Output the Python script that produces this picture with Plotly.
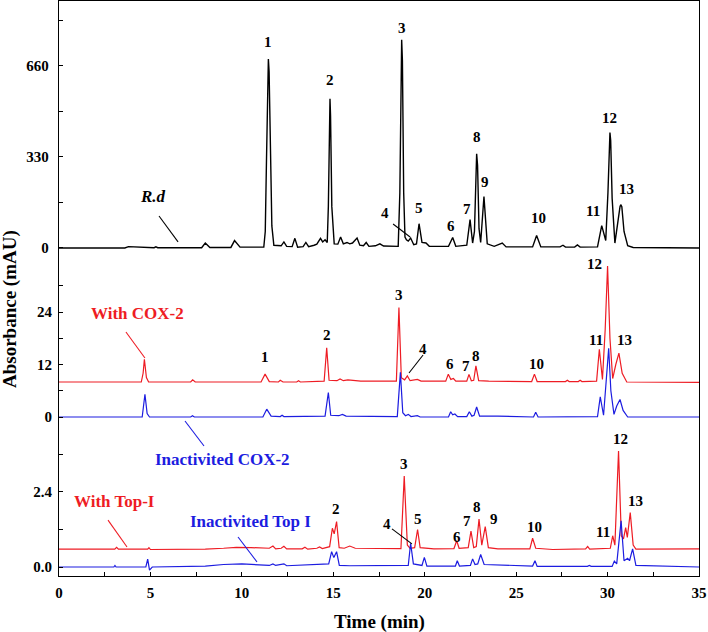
import plotly.graph_objects as go

# ---------------- data (retention time in min, absorbance in mAU) ----------------
rd_t = [0.0, 3.6, 3.8, 4.4, 4.6, 5.2, 5.3, 5.4, 7.8, 8.0, 8.25, 9.4, 9.6, 9.9, 11.2, 11.28, 11.35, 11.41, 11.45,
        11.49, 11.56, 11.64, 11.75, 12.15, 12.3, 12.45, 12.75, 12.9, 13.05, 13.35, 13.5, 13.65, 13.95, 14.1,
        14.3, 14.42, 14.55, 14.67, 14.73, 14.79, 14.82, 14.85, 14.92, 15.05, 15.25, 15.4, 15.55, 15.75, 15.9,
        16.05, 16.3, 16.45, 16.65, 16.8, 16.95, 17.3, 17.55, 17.75, 18.55, 18.64, 18.7, 18.74, 18.78, 18.85,
        18.92, 19.0, 19.1, 19.23, 19.4, 19.55, 19.69, 19.85, 20.07, 20.25, 21.3, 21.53, 21.7, 22.3, 22.48,
        22.62, 22.72, 22.8, 22.84, 22.89, 22.97, 23.06, 23.24, 23.42, 23.8, 24.24, 24.45, 25.9, 26.12, 26.35,
        27.4, 27.56, 27.7, 28.2, 28.35, 28.5, 29.45, 29.68, 29.9, 30.02, 30.09, 30.13, 30.17, 30.25, 30.4,
        30.55, 30.68, 30.72, 30.78, 30.9, 31.1, 31.4, 35.0]
rd_v = [0, 0, 5, 4, 1, 1, 4, 1, 1, 18, 2, 2, 27, 3, 3, 60, 330, 640, 685,
        640, 330, 80, 10, 8, 22, 6, 5, 35, 3, 5, 20, 5, 10, 14,
        35, 22, 30, 20, 150, 480, 541, 480, 150, 15, 14, 40, 15, 20, 15,
        18, 36, 10, 8, 20, 6, 8, 15, 7, 6, 200, 680, 755, 680, 200,
        40, 30, 25, 36, 12, 15, 88, 20, 18, 6, 6, 38, 6, 10, 103,
        18, 60, 300, 342, 300, 70, 20, 187, 15, 6, 18, 4, 4, 45, 4,
        4, 10, 3, 3, 11, 3, 4, 81, 27, 200, 390, 419, 390, 180, 18,
        100, 150, 157, 150, 60, 8, 2, 0]

cox_t = [0.0, 4.5, 4.6, 4.67, 4.78, 4.9, 7.2, 7.31, 7.45, 11.05, 11.27, 11.5, 12.0, 12.1, 12.25, 13.0, 13.1,
         13.2, 14.5, 14.64, 14.77, 15.2, 15.37, 15.55, 15.8, 16.5, 18.45, 18.59, 18.72, 18.9, 19.05, 19.2,
         19.6, 19.8, 21.15, 21.29, 21.43, 21.57, 21.7, 22.3, 22.42, 22.55, 22.68, 22.8, 22.95, 23.5, 25.85,
         26.0, 26.15, 27.7, 27.8, 27.9, 28.4, 28.5, 28.6, 29.4, 29.55, 29.72, 29.87, 30.0, 30.13, 30.28,
         30.45, 30.62, 30.8, 31.05, 35.0]
cox_v = [8.0, 8.0, 10.0, 13.2, 9.0, 8.0, 8.0, 8.5, 8.0, 8.0, 9.8, 8.1, 8.0, 8.4, 8.0, 8.0, 8.3,
         8.0, 8.2, 15.8, 8.4, 8.3, 8.7, 8.3, 8.5, 8.2, 8.2, 25.0, 9.0, 8.5, 9.4, 8.3,
         8.6, 8.2, 8.2, 9.8, 8.6, 8.8, 8.2, 8.2, 9.75, 8.3, 8.4, 11.7, 8.3, 8.2, 8.1,
         9.8, 8.1, 8.1, 8.4, 8.1, 8.1, 8.4, 8.1, 8.2, 15.5, 8.6, 20.0, 34.5, 18.0, 8.8,
         12.0, 14.6, 10.0, 8.0, 7.9]

icox_t = [0.0, 4.55, 4.7, 4.82, 4.95, 7.2, 7.3, 7.4, 11.15, 11.36, 11.6, 12.1, 12.2, 12.3, 14.55, 14.73,
          14.86, 15.3, 15.5, 15.7, 18.5, 18.67, 18.8, 18.95, 19.1, 19.25, 19.6, 19.75, 21.3, 21.42, 21.53,
          21.65, 21.8, 22.3, 22.44, 22.58, 22.7, 22.84, 23.0, 24.0, 25.95, 26.07, 26.2, 29.45, 29.6, 29.78,
          29.92, 30.06, 30.18, 30.35, 30.5, 30.68, 30.85, 31.1, 35.0]
icox_v = [0.0, 0.0, 5.2, 0.8, 0.0, 0.0, 0.3, 0.0, 0.0, 1.8, 0.2, 0.1, 0.4, 0.1, 0.2, 5.6,
          0.4, 0.3, 0.6, 0.2, 0.1, 10.2, 1.0, 0.3, 0.6, 0.1, 0.3, 0.0, 0.0, 1.2, 0.5,
          0.7, 0.1, 0.1, 1.2, 0.2, 0.4, 2.3, 0.2, 0.2, 0.0, 1.1, 0.0, 0.1, 4.6, 0.4,
          8.0, 15.7, 6.0, 0.6, 2.5, 4.0, 1.5, 0.0, 0.0]

top_t = [0.0, 3.05, 3.15, 3.25, 4.85, 4.92, 5.0, 8.0, 9.0, 9.7, 10.5, 11.0, 11.5, 11.7, 11.85, 12.15, 12.3,
         12.45, 13.3, 13.45, 13.6, 14.1, 14.25, 14.4, 14.8, 14.95, 15.05, 15.18, 15.32, 15.6, 15.9, 16.2,
         17.0, 18.7, 18.88, 19.05, 19.2, 19.45, 19.61, 19.75, 20.5, 21.6, 21.75, 21.88, 22.38, 22.53, 22.68,
         22.82, 22.97, 23.12, 23.31, 23.48, 24.0, 25.75, 25.9, 26.07, 27.0, 28.8, 28.91, 29.02, 30.15, 30.28,
         30.4, 30.6, 30.75, 30.87, 30.99, 31.08, 31.24, 31.4, 31.55, 35.0]
top_v = [0.57, 0.57, 0.63, 0.57, 0.57, 0.62, 0.56, 0.57, 0.6, 0.63, 0.62, 0.6, 0.6, 0.67, 0.58, 0.6, 0.66,
         0.58, 0.58, 0.63, 0.57, 0.6, 0.64, 0.59, 0.65, 1.24, 1.06, 1.45, 0.62, 0.6, 0.67, 0.6,
         0.59, 0.59, 2.91, 0.7, 0.6, 0.62, 1.2, 0.62, 0.58, 0.59, 0.84, 0.6, 0.62, 1.15, 0.62,
         0.65, 1.53, 0.7, 1.29, 0.62, 0.58, 0.58, 0.92, 0.6, 0.56, 0.58, 0.66, 0.57, 0.6, 1.0,
         0.7, 3.71, 1.0, 0.9, 1.26, 0.95, 1.74, 0.7, 0.57, 0.58]

itop_t = [0.0, 3.0, 3.06, 3.12, 4.75, 4.85, 4.95, 5.1, 8.0, 9.0, 10.0, 11.0, 11.5, 11.7, 11.85, 12.3, 12.45,
          14.75, 14.91, 15.03, 15.18, 15.33, 15.9, 19.1, 19.23, 19.38, 19.85, 19.98, 20.12, 21.68, 21.78,
          21.9, 22.5, 22.62, 22.75, 22.9, 23.06, 23.25, 25.9, 26.03, 26.15, 28.9, 29.0, 29.1, 30.25, 30.37,
          30.5, 30.74, 30.9, 31.1, 31.2, 31.37, 31.55, 35.0]
itop_v = [0.0, 0.0, 0.05, 0.0, 0.0, 0.25, -0.1, 0.0, 0.03, 0.08, 0.1, 0.08, 0.05, 0.1, 0.05, 0.1, 0.04,
          0.1, 0.49, 0.3, 0.49, 0.05, 0.04, 0.05, 0.76, 0.1, 0.05, 0.31, 0.03, 0.03, 0.2,
          0.03, 0.05, 0.26, 0.08, 0.1, 0.4, 0.08, 0.03, 0.2, 0.02, 0.02, 0.05, 0.02, 0.02, 0.19,
          0.1, 1.48, 0.2, 0.28, 0.2, 0.58, 0.05, 0.0]

x_ticks = [0, 5, 10, 15, 20, 25, 30, 35]
y1_ticks, y1_labels = [0, 330, 660], ["0", "330", "660"]
y2_ticks, y2_labels = [0, 12, 24], ["0", "12", "24"]
y3_ticks, y3_labels = [0.0, 2.4], ["0.0", "2.4"]

# peak labels: (text, time, value) for each panel
top_labels = [("1", 11.43, 747), ("2", 14.82, 609), ("3", 18.76, 798), ("4", 17.83, 127), ("5", 19.69, 145),
              ("6", 21.44, 80), ("7", 22.31, 141), ("8", 22.86, 402), ("9", 23.30, 239), ("10", 26.20, 109),
              ("11", 29.20, 134), ("12", 30.08, 471), ("13", 31.06, 214)]
mid_labels = [("1", 11.27, 13.71), ("2", 14.66, 18.74), ("3", 18.59, 27.89), ("4", 19.91, 15.54),
              ("6", 21.38, 12.11), ("7", 22.26, 11.66), ("8", 22.80, 13.94), ("10", 26.14, 12.11),
              ("11", 29.37, 17.6), ("12", 29.26, 34.97), ("13", 30.90, 17.6)]
bot_labels = [("2", 15.15, 1.86), ("3", 18.87, 3.30), ("4", 17.94, 1.38), ("5", 19.63, 1.54),
              ("6", 21.77, 0.96), ("7", 22.31, 1.47), ("8", 22.86, 1.92), ("9", 23.79, 1.54),
              ("10", 25.98, 1.28), ("11", 29.75, 1.12), ("12", 30.68, 4.10), ("13", 31.50, 2.11)]

# ---------------- figure ----------------
RED = "#ee1c24"
BLUE = "#1c1ce0"
FONT = "Liberation Serif, Times New Roman, serif"

fig = go.Figure()
fig.add_trace(go.Scatter(x=rd_t, y=rd_v, mode="lines", line=dict(color="black", width=1.4), yaxis="y", name="R.d"))
fig.add_trace(go.Scatter(x=cox_t, y=cox_v, mode="lines", line=dict(color=RED, width=1.2), yaxis="y2", name="With COX-2"))
fig.add_trace(go.Scatter(x=icox_t, y=icox_v, mode="lines", line=dict(color=BLUE, width=1.2), yaxis="y2", name="Inactivited COX-2"))
fig.add_trace(go.Scatter(x=top_t, y=top_v, mode="lines", line=dict(color=RED, width=1.2), yaxis="y3", name="With Top-I"))
fig.add_trace(go.Scatter(x=itop_t, y=itop_v, mode="lines", line=dict(color=BLUE, width=1.2), yaxis="y3", name="Inactivited Top I"))


def ticks_with_minor(major, labels, step):
    vals, texts = list(major), list(labels)
    extra = [major[0] + step * (k + 0.5) for k in range(len(major))]
    vals += extra
    texts += [""] * len(extra)
    return vals, texts


tickfont = dict(family=FONT, size=15, color="black", weight="bold")
y1v, y1t = ticks_with_minor(y1_ticks, y1_labels, 330)
y2v, y2t = ticks_with_minor(y2_ticks, y2_labels, 12)
y3v, y3t = ticks_with_minor(y3_ticks, y3_labels, 2.4)
xv = [v / 2 for v in range(0, 71, 5)]
xt = [str(int(v)) if v in x_ticks else "" for v in xv]

common_y = dict(ticks="inside", ticklen=4, tickwidth=1, tickcolor="black", tickmode="array",
                showgrid=False, zeroline=False, tickfont=tickfont, ticklabelstandoff=6, automargin=False)

fig.update_layout(
    width=708, height=632,
    margin=dict(l=59, r=9, t=1, b=56),
    paper_bgcolor="white", plot_bgcolor="white",
    showlegend=False,
    xaxis=dict(range=[0, 35], tickmode="array", tickvals=xv, ticktext=xt, ticks="inside", ticklen=4,
               tickcolor="black", showline=True, linecolor="black", linewidth=1.3, mirror=True,
               showgrid=False, zeroline=False, tickfont=tickfont, ticklabelstandoff=3, automargin=False),
    yaxis=dict(range=[-1189.5, 895.7], tickvals=y1v, ticktext=y1t, showline=True, linecolor="black",
               linewidth=1.3, mirror=True, **common_y),
    yaxis2=dict(range=[-36.34, 95.09], tickvals=y2v, ticktext=y2t, overlaying="y", side="left",
                anchor="x", showline=False, **common_y),
    yaxis3=dict(range=[-0.288, 18.11], tickvals=y3v, ticktext=y3t, overlaying="y", side="left",
                anchor="x", showline=False, **common_y),
)

ann = []
lab_font = dict(family=FONT, size=15, color="black", weight="bold")
for yref, labs in (("y", top_labels), ("y2", mid_labels), ("y3", bot_labels)):
    for txt, t, v in labs:
        ann.append(dict(x=t, y=v, xref="x", yref=yref, text=txt, showarrow=False, font=lab_font,
                        xanchor="center", yanchor="middle"))

ser_font = dict(family=FONT, size=17, weight="bold")
mid = dict(showarrow=False, xanchor="center", yanchor="middle")
ann += [
    dict(x=5.14, y=185, xref="x", yref="y", text="<i>R.d</i>",
         font=dict(family=FONT, size=17, color="black", weight="bold"), **mid),
    dict(x=4.29, y=23.77, xref="x", yref="y2", text="With COX-2", font=dict(color=RED, **ser_font), **mid),
    dict(x=8.94, y=-9.6, xref="x", yref="y2", text="Inactivited COX-2", font=dict(color=BLUE, **ser_font), **mid),
    dict(x=3.01, y=2.08, xref="x", yref="y3", text="With Top-I", font=dict(color=RED, **ser_font), **mid),
    dict(x=10.45, y=1.44, xref="x", yref="y3", text="Inactivited Top I", font=dict(color=BLUE, **ser_font), **mid),
    dict(x=-0.0766, y=0.4643, xref="paper", yref="paper", text="Absorbance (mAU)", textangle=-90,
         font=dict(family=FONT, size=19, color="black", weight="bold"), **mid),
    dict(x=0.5, y=-0.08, xref="paper", yref="paper", text="Time (min)",
         font=dict(family=FONT, size=19, color="black", weight="bold"), **mid),
]
fig.update_layout(annotations=ann)

pointers = [
    ("y", 5.47, 116, 6.51, 22, "black"),
    ("y", 18.27, 87, 19.20, 40, "black"),
    ("y2", 3.66, 19.43, 4.70, 13.49, RED),
    ("y2", 6.89, -0.91, 7.93, -6.63, BLUE),
    ("y2", 19.91, 14.17, 19.14, 10.06, "black"),
    ("y3", 2.68, 1.50, 3.72, 0.64, RED),
    ("y3", 9.79, 0.96, 10.83, 0.16, BLUE),
    ("y3", 18.21, 1.22, 19.30, 0.74, "black"),
]
for yref, x0, y0, x1, y1, col in pointers:
    fig.add_shape(type="line", xref="x", yref=yref, x0=x0, y0=y0, x1=x1, y1=y1,
                  line=dict(color=col, width=1.1))

fig.write_html("out.html", config={"displayModeBar": False},
               post_script="document.body.style.margin='0';document.body.style.overflow='hidden';")
